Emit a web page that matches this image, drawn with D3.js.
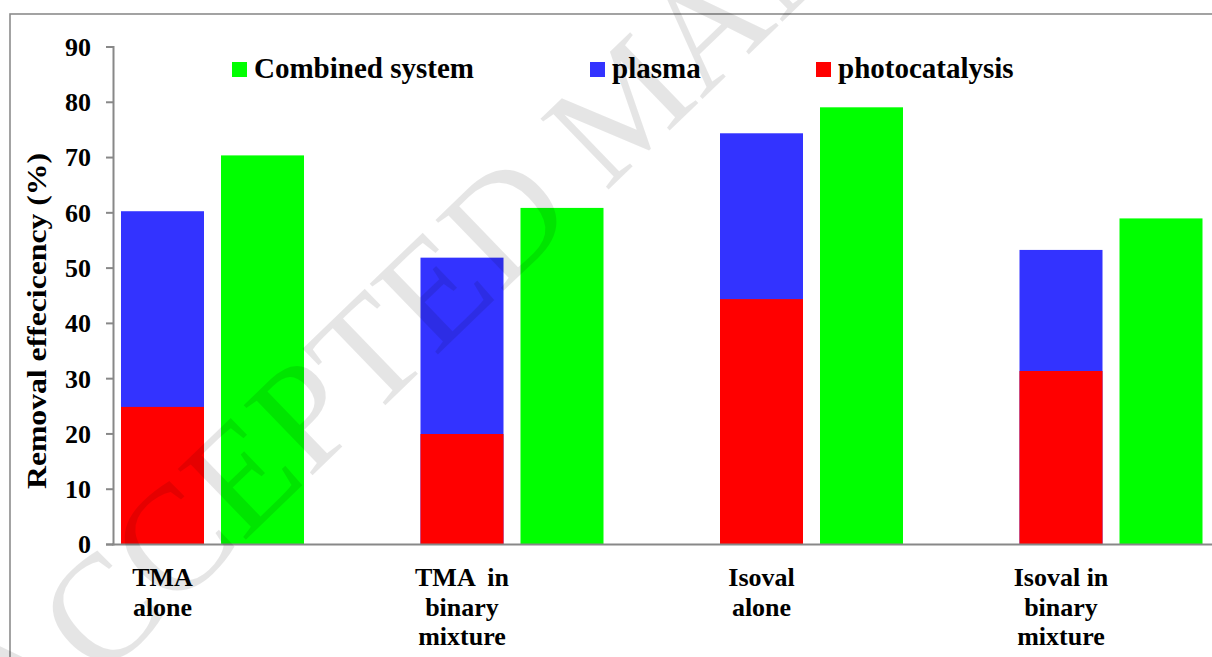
<!DOCTYPE html>
<html><head><meta charset="utf-8">
<script src="https://cdn.jsdelivr.net/npm/d3@7"></script>
<style>html,body{margin:0;padding:0;background:#fff;overflow:hidden}</style>
</head><body>
<svg id="chart" width="1212" height="657"></svg>
<script>
const categories = [["TMA","alone"],["TMA  in","binary","mixture"],["Isoval","alone"],["Isoval in","binary","mixture"]];
const categoryKeys = ["TMA alone","TMA in binary mixture","Isoval alone","Isoval in binary mixture"];
const photocatalysis = [24.8, 19.9, 44.3, 31.3];
const plasma = [60.2, 51.8, 74.3, 53.2];
const combined = [70.3, 60.8, 79.0, 58.9];
const yTicks = [0,10,20,30,40,50,60,70,80,90];
const legendItems = [["Combined system","#00ff00"],["plasma","#3333ff"],["photocatalysis","#ff0000"]];
const colors = {photo:"#ff0000", plasma:"#3333ff", combined:"#00ff00"};

const svg = d3.select("#chart");
const font = "'Liberation Serif','Times New Roman',serif";

const x = d3.scaleBand().domain(categoryKeys).range([112, 1310]).paddingInner(0).paddingOuter(0);
const xi = d3.scaleBand().domain(["stack","combined"]).range([0, 201]).paddingInner(0.17).paddingOuter(0.09);
const y = d3.scaleLinear().domain([0, 90]).range([544, 46.5]);

// frame
svg.append("rect").attr("x",10).attr("y",14).attr("width",1210).attr("height",700)
  .attr("fill","none").attr("stroke","#8c8c8c").attr("stroke-width",1.6);

const g = svg.append("g");
const bw = xi.bandwidth();
g.selectAll(".pl").data(plasma).join("rect")
  .attr("x",(d,i)=>x(categoryKeys[i])+xi("stack")).attr("width",bw)
  .attr("y",d=>y(d)).attr("height",d=>y(0)-y(d)).attr("fill",colors.plasma);
g.selectAll(".ph").data(photocatalysis).join("rect")
  .attr("x",(d,i)=>x(categoryKeys[i])+xi("stack")).attr("width",bw)
  .attr("y",d=>y(d)).attr("height",d=>y(0)-y(d)).attr("fill",colors.photo);
g.selectAll(".cb").data(combined).join("rect")
  .attr("x",(d,i)=>x(categoryKeys[i])+xi("combined")).attr("width",bw)
  .attr("y",d=>y(d)).attr("height",d=>y(0)-y(d)).attr("fill",colors.combined);

// y axis
const yAxis = d3.axisLeft(y).tickValues(yTicks).tickSize(7).tickPadding(15).tickFormat(d3.format("d"));
const ya = svg.append("g").attr("transform","translate(113,0)").call(yAxis);
ya.select(".domain").attr("stroke","#888").attr("stroke-width",2);
ya.selectAll(".tick line").attr("stroke","#888").attr("stroke-width",2);
ya.selectAll(".tick text").attr("font-family",font).attr("font-weight","bold").attr("font-size",26)
  .attr("fill","#000").attr("dy","0.34em");

// x axis line
svg.append("line").attr("x1",112).attr("x2",1212).attr("y1",y(0)+0.5).attr("y2",y(0)+0.5)
  .attr("stroke","#888").attr("stroke-width",2);

// category labels
categories.forEach((lines,i)=>{
  const cx = x(categoryKeys[i]) + xi("stack") + bw/2;
  const t = svg.append("text").attr("x",cx).attr("y",586).attr("text-anchor","middle")
    .attr("font-family",font).attr("font-weight","bold").attr("font-size",26).attr("fill","#000");
  lines.forEach((ln,j)=>{
    t.append("tspan").attr("x",cx).attr("y",586 + j*29.5).attr("xml:space","preserve").style("white-space","pre").text(ln);
  });
});

// y title
svg.append("text").attr("transform","translate(46,321) rotate(-90)").attr("text-anchor","middle")
  .attr("font-family",font).attr("font-weight","bold").attr("font-size",28).attr("fill","#000")
  .attr("textLength",336).attr("lengthAdjust","spacingAndGlyphs")
  .text("Removal effecicency (%)");

// legend
const legX = [232, 590, 816];
legendItems.forEach((it,i)=>{
  svg.append("rect").attr("x",legX[i]).attr("y",62).attr("width",15).attr("height",15).attr("fill",it[1]);
  svg.append("text").attr("x",legX[i]+22).attr("y",78).attr("font-family",font).attr("font-weight","bold")
    .attr("font-size",29).attr("fill","#000").text(it[0]);
});

// watermark
svg.append("text").attr("transform","translate(21,757) rotate(-44)")
  .attr("font-family",font).attr("font-size",150).attr("fill","#000").attr("fill-opacity",0.1)
  .text("ACCEPTED MANUSCRIPT");
</script>
</body></html>
